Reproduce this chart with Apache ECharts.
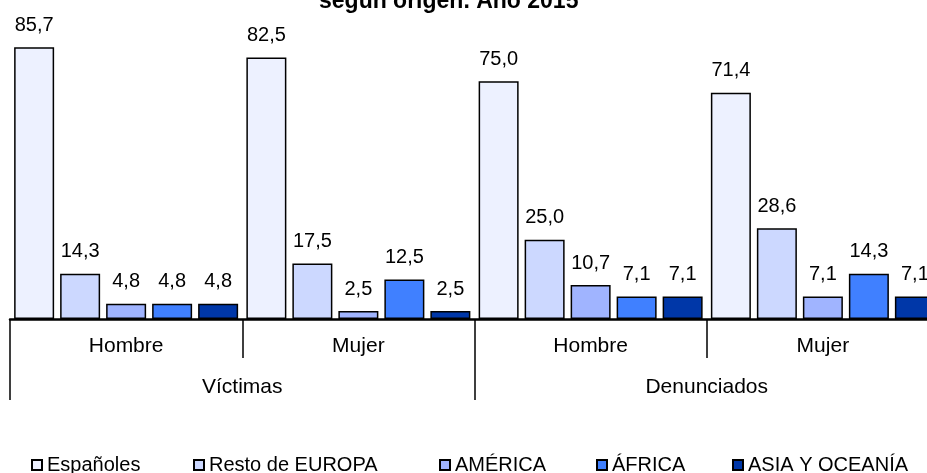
<!DOCTYPE html>
<html>
<head>
<meta charset="utf-8">
<script src="https://cdn.jsdelivr.net/npm/echarts@6/dist/echarts.min.js"></script>
<style>
  html, body { margin: 0; padding: 0; background: #fff; }
  #main { width: 927px; height: 473px; }
</style>
</head>
<body>
<div id="main"></div>
<script>
// categorias
var sexo = ['Hombre', 'Mujer', 'Hombre', 'Mujer'];
var grupos = ['Víctimas', 'Denunciados'];
var origenes = ['Españoles', 'Resto de EUROPA', 'AMÉRICA', 'ÁFRICA', 'ASIA Y OCEANÍA'];

// porcentajes por origen (Víctimas H, Víctimas M, Denunciados H, Denunciados M)
var espanoles = [85.7, 82.5, 75.0, 71.4];
var restoEuropa = [14.3, 17.5, 25.0, 28.6];
var america = [4.8, 2.5, 10.7, 7.1];
var africa = [4.8, 12.5, 7.1, 14.3];
var asiaOceania = [4.8, 2.5, 7.1, 7.1];

var valores = [espanoles, restoEuropa, america, africa, asiaOceania];
var colores = ['#edf1ff', '#ccd8ff', '#a0b4ff', '#4080ff', '#0037a8'];
var legendLeft = [31, 193, 439, 596, 732];

var myChart = echarts.init(document.getElementById('main'));

var fuente = '"Liberation Sans", Arial, sans-serif';

var option = {
    animation: false,
    textStyle: { fontFamily: fuente },
    title: {
        text: 'según origen. Año 2015',
        left: 314,
        top: -15,
        textStyle: { fontSize: 23, fontWeight: 'bold', color: '#000', fontFamily: fuente }
    },
    legend: origenes.map(function (n, i) {
        return {
            data: [n],
            left: legendLeft[i],
            top: 455,
            padding: 0,
            icon: 'rect',
            itemWidth: 10,
            itemHeight: 10,
            itemGap: 0,
            selectedMode: false,
            textStyle: { fontSize: 20, color: '#000', fontFamily: fuente }
        };
    }),
    grid: { left: 10, top: 2, right: -12, height: 317, outerBoundsMode: 'none', containLabel: false },
    xAxis: [
        {
            type: 'category',
            data: sexo,
            position: 'bottom',
            axisLine: { show: true, lineStyle: { color: '#000', width: 2.5 } },
            axisTick: { show: true, interval: 0, length: 39, lineStyle: { color: '#000', width: 1.5 } },
            axisLabel: { interval: 0, fontSize: 21, color: '#000', margin: 17, fontFamily: fuente }
        },
        {
            type: 'category',
            data: grupos,
            position: 'bottom',
            offset: 0,
            axisLine: { show: false },
            axisTick: { show: true, interval: 0, length: 81, lineStyle: { color: '#000', width: 1.5 } },
            axisLabel: { interval: 0, fontSize: 21, color: '#000', margin: 58, fontFamily: fuente }
        }
    ],
    yAxis: { type: 'value', min: 0, max: 100, show: false },
    series: origenes.map(function (n, i) {
        return {
            name: n,
            type: 'bar',
            xAxisIndex: 0,
            data: valores[i],
            barWidth: 40,
            barGap: '15%',
            itemStyle: { color: colores[i], borderColor: '#000', borderWidth: 1.5 },
            label: {
                show: true,
                position: 'top',
                distance: 12,
                fontSize: 20,
                color: '#000',
                fontFamily: fuente,
                formatter: function (p) { return p.value.toFixed(1).replace('.', ','); }
            }
        };
    })
};

myChart.setOption(option);
</script>
</body>
</html>
